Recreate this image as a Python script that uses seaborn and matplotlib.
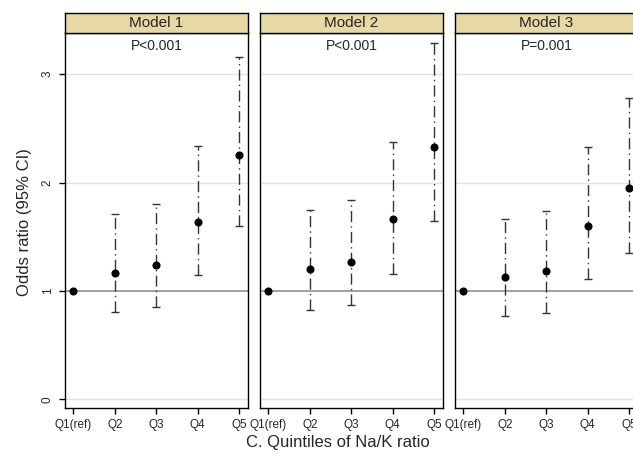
import numpy as np
import pandas as pd
import matplotlib
matplotlib.use("Agg")
import matplotlib.pyplot as plt
import seaborn as sns

# ── Données ─────────────────────────────────────────────────────────────────
quintiles = ["Q1(ref)", "Q2", "Q3", "Q4", "Q5"]
models = ["Model 1", "Model 2", "Model 3"]
p_labels = ["P<0.001", "P<0.001", "P=0.001"]

or_m1 = [1.0, 1.17, 1.24, 1.64, 2.25]
lo_m1 = [1.0, 0.81, 0.85, 1.15, 1.60]
hi_m1 = [1.0, 1.71, 1.80, 2.34, 3.16]

or_m2 = [1.0, 1.20, 1.27, 1.66, 2.33]
lo_m2 = [1.0, 0.82, 0.87, 1.16, 1.65]
hi_m2 = [1.0, 1.75, 1.84, 2.37, 3.29]

or_m3 = [1.0, 1.13, 1.18, 1.60, 1.95]
lo_m3 = [1.0, 0.77, 0.80, 1.11, 1.35]
hi_m3 = [1.0, 1.66, 1.74, 2.33, 2.78]

frames = []
for m, o, lo, hi in zip(models, [or_m1, or_m2, or_m3],
                        [lo_m1, lo_m2, lo_m3], [hi_m1, hi_m2, hi_m3]):
    frames.append(pd.DataFrame({"model": m, "q": quintiles, "x": range(5),
                                "or": o, "lo": lo, "hi": hi}))
df = pd.concat(frames, ignore_index=True)

# ── Figure ──────────────────────────────────────────────────────────────────
sns.set_style("white")
plt.rcParams["font.family"] = ["Liberation Sans", "DejaVu Sans"]

fig = plt.figure(figsize=(6.33, 4.54), dpi=100)
W, H = 633, 454
lefts = [65, 260, 455]
pw = 183
top, bottom = 33, 408
strip_h = 20

for i, (m, p) in enumerate(zip(models, p_labels)):
    ax = fig.add_axes([lefts[i] / W, (H - bottom) / H, pw / W, (bottom - top) / H])
    sub = df[df["model"] == m]

    for g in [0, 2, 3]:
        ax.axhline(g, color="#e3e3e3", lw=1, zorder=0)
    ax.axhline(1, color="#9a9a9a", lw=1.3, zorder=1)

    rows = sub[sub["x"] > 0]
    eb = ax.errorbar(rows["x"], rows["or"],
                     yerr=[rows["or"] - rows["lo"], rows["hi"] - rows["or"]],
                     fmt="none", ecolor="#333333", elinewidth=1,
                     capsize=2.6, capthick=1, zorder=2)
    eb[2][0].set_linestyle((0, (8, 3, 1, 3)))

    sns.scatterplot(data=sub, x="x", y="or", ax=ax, color="black", s=34,
                    edgecolor="black", linewidth=0, zorder=3, legend=False)

    ax.set_xlim(-0.2, 4.21)
    ax.set_ylim(-0.08, 3.38)
    ax.set_xticks(range(5))
    ax.set_xticklabels(quintiles, fontsize=8.5)
    ax.set_xlabel("")
    ax.set_ylabel("")
    ax.tick_params(axis="x", direction="out", length=4, width=1, pad=4,
                   bottom=True, color="black")
    if i == 0:
        ax.set_yticks([0, 1, 2, 3])
        ax.set_yticklabels(["0", "1", "2", "3"], rotation=90, va="center",
                           fontsize=8.5)
        ax.tick_params(axis="y", direction="out", length=4, width=1, pad=4,
                       left=True, color="black")
    else:
        ax.set_yticks([])
    for s in ax.spines.values():
        s.set_color("black")
        s.set_linewidth(1)

    ax.text(0.5, 0.985, p, transform=ax.transAxes, ha="center", va="top",
            fontsize=10)

    # bandeau du panneau
    sax = fig.add_axes([lefts[i] / W, (H - top) / H, pw / W, strip_h / H])
    sax.set_facecolor("#e6d9a4")
    sax.set_xticks([])
    sax.set_yticks([])
    for s in sax.spines.values():
        s.set_color("black")
        s.set_linewidth(1)
    sax.text(0.5, 0.5, m, ha="center", va="center", fontsize=11,
             transform=sax.transAxes)

fig.text(338 / W, 1 - 442 / H, "C. Quintiles of Na/K ratio", ha="center",
         va="center", fontsize=12)
fig.text(25 / W, 1 - 222 / H, "Odds ratio (95% CI)", ha="center",
         va="center", rotation=90, fontsize=12)

fig.savefig("out.png", dpi=100)
